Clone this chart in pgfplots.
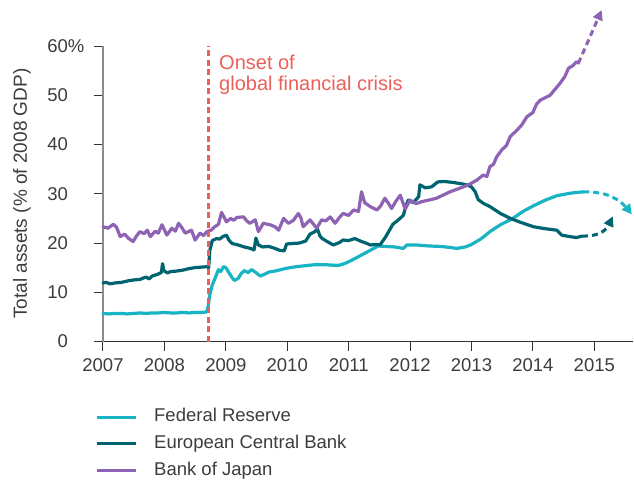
\documentclass[border=0pt]{standalone}
\usepackage{fontspec}
\setmainfont{Liberation Sans}
\usepackage{pgfplots}
\pgfplotsset{compat=1.18}
\usetikzlibrary{arrows.meta}
\definecolor{fedc}{RGB}{25,180,196}
\definecolor{ecbc}{RGB}{0,100,112}
\definecolor{bojc}{RGB}{142,98,180}
\definecolor{crisisc}{RGB}{235,95,90}
\definecolor{textc}{RGB}{60,60,60}
\definecolor{axisgray}{RGB}{140,140,140}
\definecolor{axisdark}{RGB}{50,50,50}
\newcommand{\lblfont}{\fontsize{18.5}{22}\selectfont}
\tikzset{ser/.style={line width=3.2pt, line join=round, line cap=round}}
\begin{document}
\begin{tikzpicture}
\useasboundingbox (-103pt,-137.5pt) rectangle (531pt,341.5pt);
\begin{axis}[
  at={(0,0)}, anchor=south west,
  scale only axis, width=530pt, height=295.5pt,
  xmin=2007, xmax=2015.63, ymin=0, ymax=60,
  axis x line*=bottom, axis y line*=left,
  x axis line style={draw=axisdark, line width=1pt},
  y axis line style={draw=axisgray, line width=1.3pt},
  xtick={2007,2008,2009,2010,2011,2012,2013,2014,2015},
  xticklabels={2007,2008,2009,2010,2011,2012,2013,2014,2015},
  ytick={0,10,20,30,40,50,60},
  yticklabels={0,10,20,30,40,50,60\rlap{\%}},
  tick align=outside, major tick length=9pt,
  xtick style={draw=axisdark, line width=1pt},
  ytick style={draw=axisdark, line width=1pt},
  tick label style={font=\lblfont, text=textc},
  yticklabel style={inner sep=0pt, xshift=-26pt},
  xticklabel style={inner sep=0pt, yshift=-8pt},
  ylabel={Total assets (\% of 2008 GDP)},
  every axis y label/.style={at={(rel axis cs:0,0.5)}, xshift=-81pt, rotate=90, anchor=center, font=\fontsize{19}{22}\selectfont, text=textc},
  clip=false,
  legend cell align=left,
  legend image code/.code={\draw[#1, line width=2.8pt, line cap=butt] (0pt,0pt) -- (39pt,0pt); \path (56pt,0pt);},
  legend style={at={(axis description cs:-0.0151,-0.2267)}, anchor=north west, draw=none, fill=none, inner sep=0pt, font=\lblfont, text=textc, row sep=9.7pt, nodes={inner sep=0pt, text height=13pt, text depth=4pt}},
]
% Federal Reserve
\addplot[fedc, ser] coordinates {
(2007.00,5.7)(2007.1,5.6)(2007.2,5.7)(2007.3,5.7)(2007.4,5.6)(2007.5,5.7)(2007.6,5.8)(2007.7,5.7)(2007.8,5.8)(2007.9,5.8)(2008.0,5.9)(2008.1,5.8)(2008.2,5.8)(2008.3,5.9)(2008.4,5.8)(2008.5,5.9)(2008.6,5.9)(2008.69,6.0)
(2008.71,7.0)(2008.74,9.5)(2008.78,11.5)(2008.83,13.0)(2008.88,14.6)(2008.92,14.2)(2008.96,15.2)(2009.0,15.0)(2009.05,14.0)(2009.1,13.0)(2009.14,12.4)(2009.2,12.8)(2009.25,13.8)(2009.3,14.4)(2009.36,14.0)(2009.42,14.6)(2009.5,13.9)(2009.56,13.3)(2009.62,13.6)(2009.7,14.1)(2009.8,14.3)(2009.9,14.6)(2010.0,14.9)(2010.15,15.2)(2010.3,15.4)(2010.45,15.6)(2010.6,15.6)(2010.75,15.5)(2010.85,15.5)(2010.95,15.9)(2011.05,16.5)(2011.2,17.5)(2011.35,18.5)(2011.48,19.4)(2011.6,19.3)(2011.75,19.2)(2011.89,18.9)(2011.95,19.6)(2012.1,19.6)(2012.3,19.4)(2012.5,19.3)(2012.65,19.1)(2012.76,18.9)(2012.9,19.2)(2013.0,19.7)(2013.15,20.8)(2013.3,22.3)(2013.47,23.7)(2013.66,24.9)(2013.85,26.5)(2014.0,27.5)(2014.2,28.7)(2014.39,29.6)(2014.6,30.1)(2014.82,30.4)
};
\addlegendentry{Federal Reserve}
% European Central Bank
\addplot[ecbc, ser] coordinates {
(2007.0,11.9)(2007.05,12.0)(2007.12,11.7)(2007.2,11.9)(2007.3,12.0)(2007.4,12.3)(2007.5,12.5)(2007.6,12.6)(2007.7,13.1)(2007.75,12.7)(2007.8,13.3)(2007.88,13.6)(2007.95,14.0)(2007.97,15.8)(2007.99,14.4)(2008.05,13.9)(2008.1,14.2)(2008.2,14.3)(2008.3,14.5)(2008.4,14.8)(2008.5,15.0)(2008.6,15.1)(2008.7,15.2)(2008.72,15.0)(2008.74,18.5)(2008.78,20.5)(2008.85,20.9)(2008.9,20.8)(2008.95,21.3)(2009.01,21.6)(2009.05,20.6)(2009.1,19.9)(2009.2,19.6)(2009.3,19.2)(2009.4,18.9)(2009.46,18.6)(2009.49,21.0)(2009.53,19.6)(2009.6,19.2)(2009.7,19.3)(2009.8,18.9)(2009.88,18.5)(2009.95,18.4)(2009.99,19.8)(2010.1,19.9)(2010.2,20.0)(2010.3,20.4)(2010.37,21.8)(2010.45,22.3)(2010.49,22.9)(2010.53,21.5)(2010.56,21.0)(2010.65,20.3)(2010.75,19.6)(2010.85,20.1)(2010.91,20.6)(2011.0,20.5)(2011.1,20.9)(2011.19,20.4)(2011.3,19.9)(2011.35,19.6)(2011.45,19.7)(2011.51,19.6)(2011.6,21.2)(2011.72,23.8)(2011.8,24.6)(2011.89,25.6)(2011.93,27.4)(2011.97,28.7)(2012.05,28.2)(2012.14,29.4)(2012.16,31.8)(2012.25,31.2)(2012.35,31.4)(2012.45,32.4)(2012.55,32.5)(2012.7,32.3)(2012.85,32.0)(2012.92,31.8)(2013.0,31.4)(2013.06,30.4)(2013.11,28.8)(2013.2,28.0)(2013.3,27.4)(2013.47,26.0)(2013.63,25.0)(2013.8,24.2)(2014.01,23.3)(2014.2,22.9)(2014.39,22.6)(2014.47,21.6)(2014.6,21.3)(2014.71,21.1)(2014.8,21.4)
};
\addlegendentry{European Central Bank}
% Bank of Japan
\addplot[bojc, ser] coordinates {
(2007.0,23.3)(2007.08,23.0)(2007.17,23.8)(2007.22,23.2)(2007.28,21.3)(2007.35,21.8)(2007.42,20.9)(2007.49,20.3)(2007.55,21.5)(2007.6,22.3)(2007.67,21.9)(2007.72,22.6)(2007.77,21.3)(2007.85,22.4)(2007.9,22.0)(2007.96,23.7)(2008.04,21.6)(2008.12,23.0)(2008.18,22.4)(2008.23,24.0)(2008.28,23.2)(2008.34,22.0)(2008.44,22.6)(2008.5,20.6)(2008.58,22.0)(2008.64,21.5)(2008.69,22.3)(2008.76,22.6)(2008.82,23.3)(2008.88,23.8)(2008.93,26.2)(2008.97,25.3)(2009.01,24.3)(2009.08,25.0)(2009.13,24.6)(2009.18,25.2)(2009.29,25.3)(2009.34,24.5)(2009.39,24.0)(2009.48,24.7)(2009.53,22.3)(2009.61,24.0)(2009.72,23.7)(2009.8,23.3)(2009.86,22.6)(2009.94,25.0)(2010.02,24.0)(2010.1,24.6)(2010.18,26.0)(2010.22,25.2)(2010.26,23.3)(2010.37,24.7)(2010.48,23.0)(2010.56,24.7)(2010.63,24.5)(2010.7,25.3)(2010.78,24.0)(2010.85,25.2)(2010.91,26.0)(2011.0,25.6)(2011.08,26.7)(2011.16,26.4)(2011.21,30.4)(2011.26,28.2)(2011.35,27.4)(2011.46,26.7)(2011.52,27.5)(2011.59,29.1)(2011.65,28.0)(2011.7,27.0)(2011.77,28.5)(2011.84,29.7)(2011.92,26.9)(2012.0,28.7)(2012.1,28.0)(2012.19,28.4)(2012.3,28.7)(2012.43,29.1)(2012.55,29.8)(2012.65,30.4)(2012.76,30.9)(2012.87,31.4)(2012.98,32.0)(2013.09,32.8)(2013.19,33.8)(2013.25,33.5)(2013.3,35.5)(2013.36,36.0)(2013.41,37.5)(2013.5,39.0)(2013.57,39.8)(2013.63,41.6)(2013.74,42.9)(2013.82,44.0)(2013.9,45.6)(2014.0,46.5)(2014.06,48.2)(2014.12,49.0)(2014.2,49.5)(2014.28,50.0)(2014.36,51.2)(2014.44,52.4)(2014.52,53.8)(2014.58,55.5)(2014.65,56.0)(2014.71,56.8)(2014.74,56.5)
};
\addlegendentry{Bank of Japan}
% dashed projections
\addplot[fedc, forget plot, line width=3pt, dash pattern=on 6pt off 4pt, -{Triangle[length=10pt,width=10pt]}, smooth] coordinates {
(2014.82,30.4)(2015.0,30.3)(2015.2,29.8)(2015.4,28.6)(2015.52,27.2)(2015.61,25.8)
};
\addplot[ecbc, forget plot, line width=3pt, dash pattern=on 6pt off 4pt, -{Triangle[length=10pt,width=10pt]}, smooth] coordinates {
(2014.8,21.4)(2014.95,21.5)(2015.09,22.0)(2015.2,23.0)(2015.3,25.4)
};
\addplot[bojc, forget plot, line width=3pt, dash pattern=on 6pt off 4pt, -{Triangle[length=10pt,width=10pt]}] coordinates {
(2014.74,56.5)(2014.9,61.0)(2015.12,67.3)
};
% crisis line
\addplot[crisisc, forget plot, line width=3pt, dash pattern=on 6pt off 3.5pt] coordinates {(2008.71,0)(2008.71,60)};
\node[anchor=base west, text=crisisc, font=\fontsize{20}{24}\selectfont, inner sep=0pt] at (axis cs:2008.889,55.33) {Onset of};
\node[anchor=base west, text=crisisc, font=\fontsize{20}{24}\selectfont, inner sep=0pt] at (axis cs:2008.889,50.92) {global financial crisis};
\end{axis}
\end{tikzpicture}
\end{document}
